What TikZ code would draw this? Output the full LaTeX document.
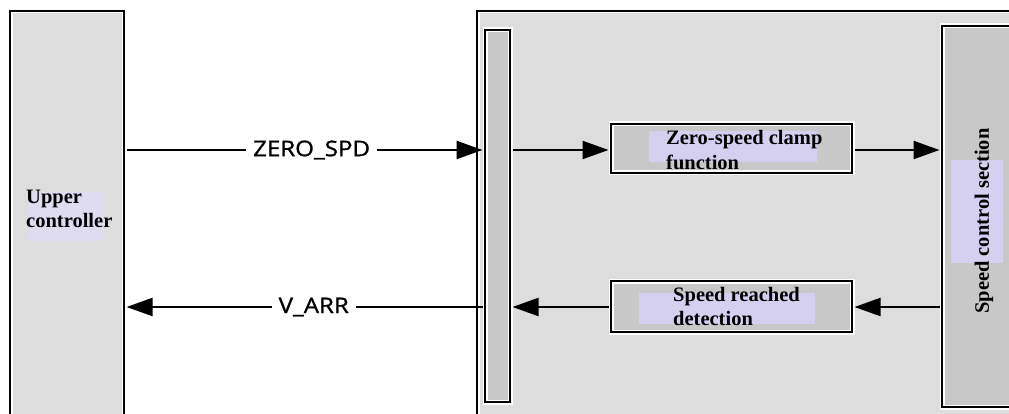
\documentclass[tikz,border=0pt]{standalone}
\usepackage{fontspec}
\setmainfont{Liberation Serif}
\newfontfamily\labfont[FakeStretch=1.12,FakeBold=1.2]{Open Sans}
\usetikzlibrary{arrows.meta}
\definecolor{outergray}{RGB}{220,221,220}
\definecolor{innergray}{RGB}{200,200,200}
\definecolor{lav}{RGB}{214,208,240}
\definecolor{lavpale}{RGB}{224,220,240}
\tikzset{
  box/.style={rectangle, inner sep=0pt, fill=#1, draw=white, line width=5pt,
              postaction={draw=black, line width=2.2pt}},
  arr/.style={line width=2.2pt, -{Triangle[length=26pt,width=18pt]}},
  lab/.style={fill=white, inner xsep=7pt, inner ysep=2pt,
              font=\labfont\fontsize{21.5}{24}\selectfont, text=black},
  txt/.style={anchor=base west, inner sep=0pt,
              font=\fontsize{20.5}{24}\selectfont\bfseries, text=black},
}
\begin{document}
\begin{tikzpicture}[x=1pt,y=-1pt]
\useasboundingbox (0,0) rectangle (1009,414);
\clip (0,0) rectangle (1009,414);
% main blocks
\node[box=outergray, minimum width=114pt, minimum height=420pt] (upper) at (67,221) {};
\node[box=outergray, minimum width=548pt, minimum height=420pt] (big) at (751,221) {};
\node[box=innergray, minimum width=25pt, minimum height=372pt] (bar) at (497.5,216) {};
\node[box=innergray, minimum width=241pt, minimum height=49pt] (clamp) at (731.5,148.5) {};
\node[box=innergray, minimum width=241pt, minimum height=51pt] (reached) at (731.5,306.5) {};
\node[box=innergray, minimum width=83pt, minimum height=381pt] (speed) at (983.5,216.5) {};
% highlight patches
\fill[lavpale] (28,192) rectangle (104,241);
\fill[lav] (649,131) rectangle (817,162);
\fill[lav] (639,293) rectangle (815,324);
\fill[lav] (951,160) rectangle (1003,263);
% texts
\node[txt] (t1) at (26,204) {Upper};
\node[txt] (t2) at (26,228) {controller};
\node[txt] (t3) at (666,145) {Zero-speed clamp};
\node[txt] (t4) at (666,170) {function};
\node[txt] (t5) at (673,301) {Speed reached};
\node[txt] (t6) at (673,325) {detection};
\node[inner sep=0pt, rotate=90, font=\fontsize{20.5}{24}\selectfont\bfseries] (t7) at (984,221) {Speed control section};
% connectors
\coordinate (ya) at (0,150);
\coordinate (yb) at (0,307);
\draw[arr] (upper.east |- ya) -- node[lab, pos=0.52] (l1) {ZERO\_SPD} (bar.west |- ya);
\draw[arr] (bar.east |- ya) -- (clamp.west |- ya);
\draw[arr] (clamp.east |- ya) -- (speed.west |- ya);
\draw[arr] (bar.west |- yb) -- node[lab, pos=0.474] (l2) {V\_ARR} (upper.east |- yb);
\draw[arr] (speed.west |- yb) -- (reached.east |- yb);
\draw[arr] (reached.west |- yb) -- (bar.east |- yb);
\end{tikzpicture}
\end{document}
